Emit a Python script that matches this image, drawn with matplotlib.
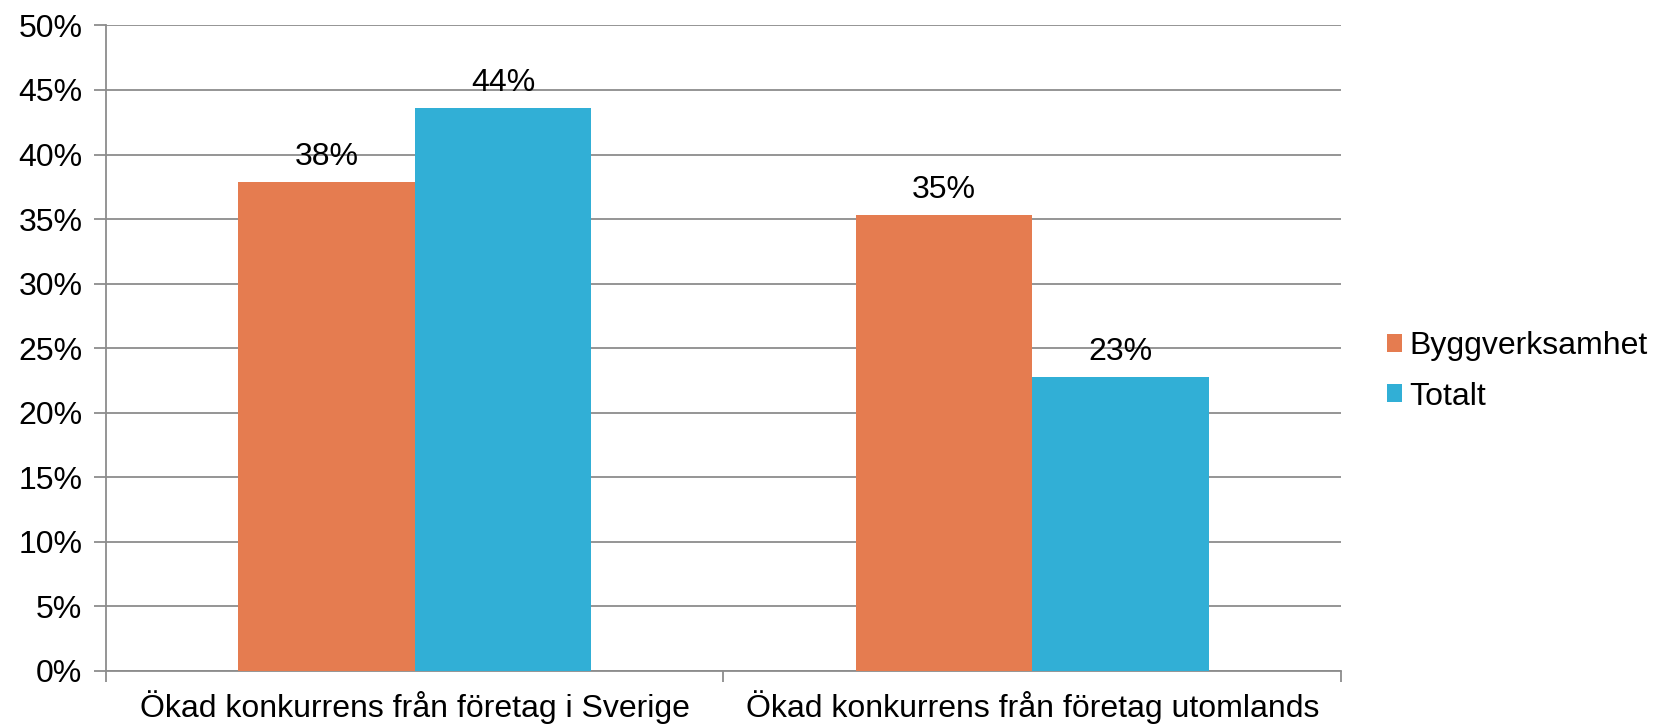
import matplotlib
matplotlib.use("Agg")
import matplotlib.pyplot as plt
import numpy as np
from matplotlib.ticker import FixedLocator

plt.rcParams['font.family'] = ['Liberation Sans', 'DejaVu Sans']

categories = ["Ökad konkurrens från företag i Sverige", "Ökad konkurrens från företag utomlands"]
series_names = ["Byggverksamhet", "Totalt"]
bygg = [37.9, 35.3]
totalt = [43.6, 22.8]
bygg_labels = ["38%", "35%"]
totalt_labels = ["44%", "23%"]
yticks = [0, 5, 10, 15, 20, 25, 30, 35, 40, 45, 50]
ytick_labels = [f"{v}%" for v in yticks]

colors = ["#E57C50", "#31AFD6"]
grid_color = "#8C8C8C"
FS = 23

fig = plt.figure(figsize=(16.62, 7.26), dpi=100)
ax = fig.add_axes([106/1662, 1-671/726, (1341-106)/1662, (671-25.4)/726])

x = np.arange(len(categories))
w = 0.2857
b1 = ax.bar(x - w/2, bygg, w, color=colors[0], label=series_names[0], zorder=3)
b2 = ax.bar(x + w/2, totalt, w, color=colors[1], label=series_names[1], zorder=3)

for bars, labs in ((b1, bygg_labels), (b2, totalt_labels)):
    for rect, lab in zip(bars, labs):
        ax.annotate(lab, (rect.get_x() + rect.get_width()/2, rect.get_height()),
                    xytext=(0, 7), textcoords="offset points",
                    ha="center", va="bottom", fontsize=FS, color="black", zorder=4)

ax.set_xlim(-0.5, 1.5)
ax.set_ylim(0, 50)
ax.set_yticks(yticks)
ax.set_yticklabels(ytick_labels, fontsize=FS)
ax.set_xticks(x)
ax.set_xticklabels(categories, fontsize=FS)
ax.xaxis.set_minor_locator(FixedLocator([-0.5, 0.5, 1.5]))
ax.tick_params(axis='x', which='major', length=0, pad=14)
ax.tick_params(axis='x', which='minor', length=8, width=1.3, color=grid_color, direction='out')
ax.tick_params(axis='y', length=9, width=1.3, color=grid_color, direction='out', pad=8)

ax.yaxis.grid(True, color=grid_color, linewidth=1.3, zorder=0)
ax.set_axisbelow(True)
for s in ("top", "right"):
    ax.spines[s].set_visible(False)
for s in ("left", "bottom"):
    ax.spines[s].set_color(grid_color)
    ax.spines[s].set_linewidth(1.3)

ax.legend(loc="center left", bbox_to_anchor=(1.037, 0.464), frameon=False, fontsize=FS,
          handlelength=0.47, handleheight=0.47, handletextpad=0.23, labelspacing=0.63,
          borderaxespad=0, borderpad=0)

fig.savefig("out.png", dpi=100)
